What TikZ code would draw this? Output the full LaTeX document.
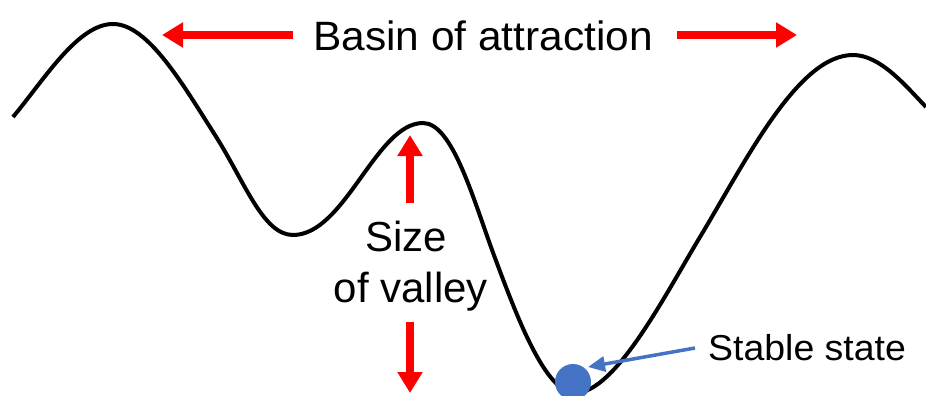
\documentclass[tikz,border=0pt]{standalone}
\usepackage{fontspec}
\setmainfont{Liberation Sans}
\usetikzlibrary{arrows.meta}
\definecolor{ballblue}{HTML}{4472C4}
\tikzset{
  landscape/.style={draw=black, line width=4pt},
  redarrow/.style={draw=red, line width=7.5pt, -{Triangle[length=21pt,width=24pt]}},
  bluearrow/.style={draw=ballblue, line width=3.5pt, -{Triangle[length=17pt,width=15pt]}},
  lbl/.style={inner sep=0pt},
  ball/.style={circle, fill=ballblue, minimum size=36pt, inner sep=0pt}
}
\begin{document}
\begin{tikzpicture}[x=1pt,y=-1pt]
\useasboundingbox (0,0) rectangle (926,396);
\begin{scope}
\clip (0,0) rectangle (926,396);
\draw[landscape]
  (13,117) .. controls (45,78.5) and (78,24) .. (113,24)
  .. controls (148,24) and (182.8,84.4) .. (215,135)
  .. controls (244.5,181.4) and (263,235) .. (293,235)
  .. controls (345,235) and (376,123) .. (423,123)
  .. controls (453,123) and (474,202) .. (495,258)
  .. controls (516,314) and (545,393) .. (575,393)
  .. controls (615,393) and (663.9,297) .. (700,237)
  .. controls (746.4,159.9) and (798,55) .. (853,55)
  .. controls (880,55) and (905,85) .. (926,107);
\node[ball] (ball) at (573,382) {};
\end{scope}
\node[lbl, anchor=base, xscale=1.035, font=\fontsize{41}{48}\selectfont] (basin) at (483,50.5) {Basin of attraction};
\node[lbl, anchor=base, font=\fontsize{42}{48}\selectfont] (size) at (406,251.5) {Size};
\node[lbl, anchor=base, font=\fontsize{42}{48}\selectfont] (valley) at (411,302.5) {of valley};
\node[lbl, anchor=base west, xscale=1.04, font=\fontsize{36}{44}\selectfont] (stable) at (708,360) {Stable state};
\coordinate (bl0) at (293,35);
\coordinate (bl1) at (162,35);
\coordinate (br0) at (677,35);
\coordinate (br1) at (797,35);
\coordinate (su0) at (410,203);
\coordinate (su1) at (410,135);
\coordinate (sd0) at (410,322);
\coordinate (sd1) at (410,393);
\coordinate (st0) at (695,348);
\coordinate (st1) at (588,367);
\draw[redarrow] (bl0) -- (bl1);
\draw[redarrow] (br0) -- (br1);
\draw[redarrow] (su0) -- (su1);
\draw[redarrow] (sd0) -- (sd1);
\draw[bluearrow] (st0) -- (st1);
\end{tikzpicture}
\end{document}
